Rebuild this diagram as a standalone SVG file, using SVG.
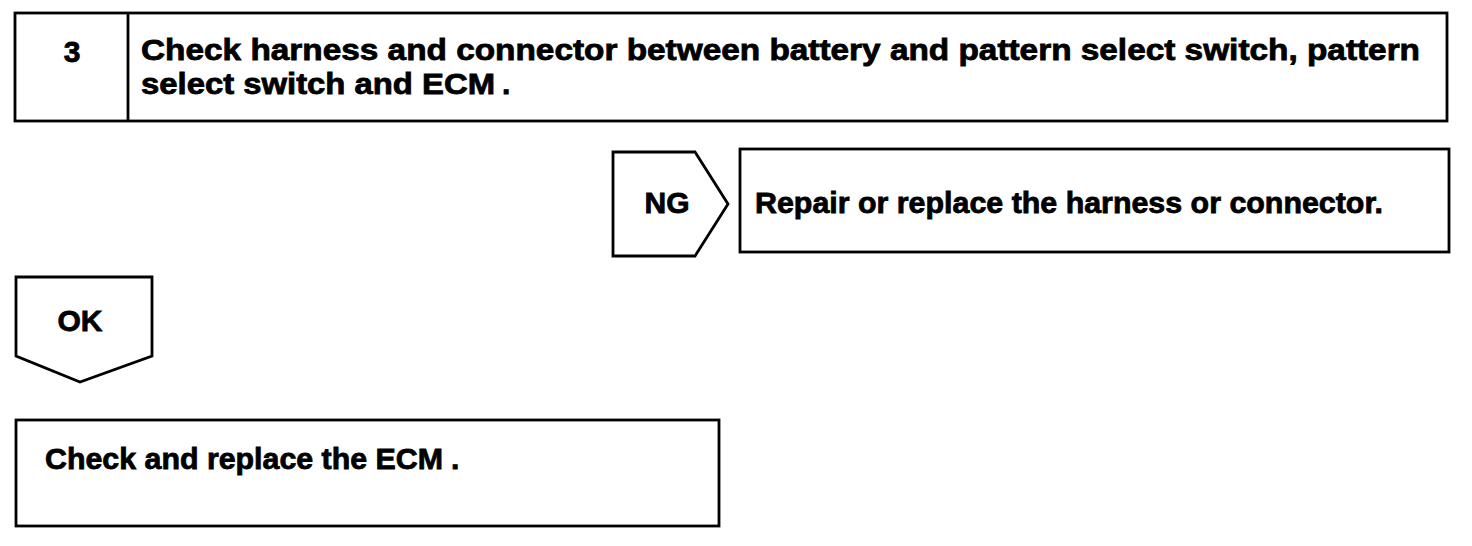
<svg xmlns="http://www.w3.org/2000/svg" width="1472" height="546" viewBox="0 0 1472 546">
<style>
.s{fill:#fff;stroke:#000;stroke-width:2.8;stroke-linejoin:miter}
.t{font-family:"Liberation Sans",Arial,sans-serif;font-weight:bold;font-size:30px;fill:#000;stroke:#000;stroke-width:0.8}
</style>
<rect width="1472" height="546" fill="#fff"/>
<g id="step3">
<rect class="s" x="15" y="13" width="1432" height="108"/>
<line class="s" x1="128" y1="13" x2="128" y2="121"/>
<text class="t" x="72" y="62" text-anchor="middle">3</text>
<text class="t" x="141" y="60" textLength="1279" lengthAdjust="spacingAndGlyphs">Check harness and connector between battery and pattern select switch, pattern</text>
<text class="t" x="141" y="94"><tspan textLength="354" lengthAdjust="spacingAndGlyphs">select switch and ECM</tspan><tspan x="502">.</tspan></text>
</g>
<g id="ng">
<polygon class="s" points="613,152 695,152 728,204 695,256 613,256"/>
<text class="t" x="667" y="213" text-anchor="middle">NG</text>
</g>
<g id="repair">
<rect class="s" x="740" y="149" width="709" height="103"/>
<text class="t" x="755" y="213" textLength="628" lengthAdjust="spacingAndGlyphs">Repair or replace the harness or connector.</text>
</g>
<g id="ok">
<polygon class="s" points="16,277 152,277 152,356 80,382 16,356"/>
<text class="t" x="80" y="331" text-anchor="middle">OK</text>
</g>
<g id="ecm">
<rect class="s" x="16" y="420" width="703" height="106"/>
<text class="t" x="45" y="469"><tspan textLength="398" lengthAdjust="spacingAndGlyphs">Check and replace the ECM</tspan><tspan x="451">.</tspan></text>
</g>
<g id="connectors"></g>
</svg>
